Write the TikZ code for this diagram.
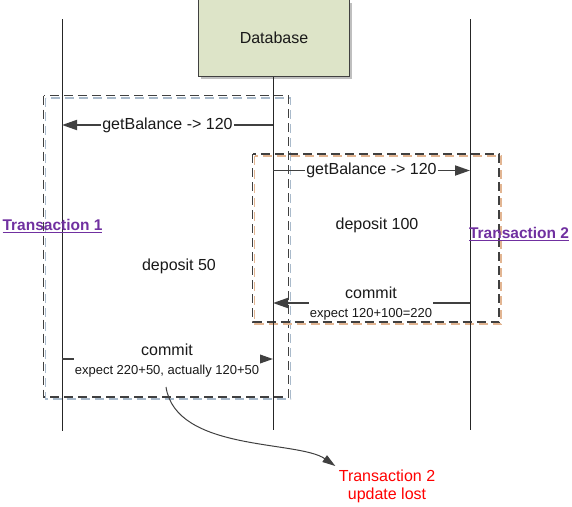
\documentclass[tikz,border=0pt]{standalone}
\usepackage{fontspec}
\setmainfont{Liberation Sans}
\usetikzlibrary{arrows.meta}
\definecolor{linegray}{HTML}{404040}
\definecolor{dbfill}{HTML}{DDE4C8}
\definecolor{tpurple}{HTML}{7030A0}
\definecolor{shblue}{HTML}{A9BACB}
\definecolor{shorange}{HTML}{E2B592}
\tikzset{
  lifeline/.style={draw=black!85, line width=1pt},
  msg/.style={draw=linegray, line width=1.8pt, -{Triangle[length=15pt,width=10pt]}},
  txbox/.style={draw=linegray, line width=1.4pt, dash pattern=on 9pt off 5pt},
  txshadow/.style={line width=1.4pt, dash pattern=on 9pt off 5pt},
  lbl/.style={fill=white, inner sep=1pt, font=\fontsize{16}{18}\selectfont, text=black!90},
  commitlbl/.style={fill=white, inner sep=1pt, align=center, font=\fontsize{16}{19}\selectfont, text=black!90},
  txlabel/.style={text=tpurple, font=\fontsize{15.5}{17}\selectfont\bfseries, inner sep=0pt},
  note/.style={text=red, font=\fontsize{16}{18}\selectfont, align=center}
}
\newcommand{\smalltxt}{\fontsize{13}{15}\selectfont}
\begin{document}
\begin{tikzpicture}[x=1pt,y=-1pt]
\useasboundingbox (0,0) rectangle (572,506);
% transaction boxes
\draw[txshadow, draw=shblue] (45.5,98) rectangle (290.5,399);
\draw[txbox] (43.5,95.5) rectangle (288.5,397);
\draw[txshadow, draw=shorange] (254.5,156) rectangle (501,324);
\draw[txbox] (252.5,154) rectangle (499,322);
% database
\fill[black!25] (201,3) rectangle (352,79);
\node[draw=linegray, line width=1pt, fill=dbfill, minimum width=151pt, minimum height=77pt, anchor=north west, font=\fontsize{16}{18}\selectfont, text=black!90] (db) at (198,-1) {Database};
% lifelines
\coordinate (l1top) at (62,19);
\coordinate (l1bot) at (62,431);
\coordinate (l2bot) at (273,430);
\coordinate (l3top) at (470,19);
\coordinate (l3bot) at (470,430);
\draw[lifeline] (l1top) -- (l1bot);
\draw[lifeline] (db.south -| l2bot) -- (l2bot);
\draw[lifeline] (l3top) -- (l3bot);
% message coordinates
\coordinate (m1s) at (273,125);
\coordinate (m1e) at (62,125);
\coordinate (m2s) at (273,170.5);
\coordinate (m2e) at (470,170.5);
\coordinate (m3s) at (470,303);
\coordinate (m3e) at (273,303);
\coordinate (m4s) at (62,359);
\coordinate (m4e) at (273,359);
\draw[msg] (m1s) -- (m1e);
\draw[msg] (m2s) -- (m2e);
\draw[msg] (m3s) -- (m3e);
\draw[msg] (m4s) -- (m4e);
% labels
\node[lbl] (gb1) at (167.5,125) {getBalance -> 120};
\node[lbl] (gb2) at (371.5,170.5) {getBalance -> 120};
\node[lbl] (dep100) at (377,225) {deposit 100};
\node[lbl] (dep50) at (179,266) {deposit 50};
\node[commitlbl] (c2) at (371,303.5) {commit\\{\smalltxt expect 120+100=220}};
\node[commitlbl] (c1) at (167,360.5) {commit\\{\smalltxt expect 220+50, actually 120+50}};
\node[txlabel] (t1) at (52.5,226) {\underline{Transaction 1}};
\node[txlabel] (t2) at (519,234) {\underline{Transaction 2}};
% note
\node[note] (lost) at (387,486) {Transaction 2\\update lost};
\coordinate (cstart) at (166,387);
\draw[draw=linegray, line width=1pt, -{Triangle[length=13pt,width=8pt]}] (cstart) .. controls (176,452) and (298,440) .. (lost.north west);
\end{tikzpicture}
\end{document}
